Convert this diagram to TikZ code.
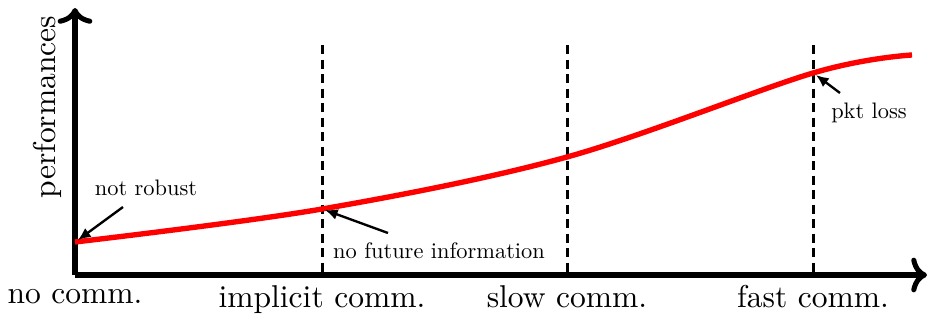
\documentclass[tikz,border=0pt]{standalone}
\usetikzlibrary{arrows.meta}
\begin{document}
\begin{tikzpicture}[x=0.317pt,y=-0.317pt,
  axisline/.style={line width=1.6pt,-{To[length=5pt,width=11pt]}},
  curveline/.style={red,line width=1.7pt},
  divider/.style={line width=0.95pt,dash pattern=on 2.9pt off 1.7pt},
  pointer/.style={line width=0.75pt,-{Latex[length=4pt,width=3.5pt]}},
  biglabel/.style={font=\normalsize,inner sep=0pt},
  smalllabel/.style={font=\normalsize,inner sep=0pt,scale=0.71,transform shape}]
\useasboundingbox (0,0) rectangle (929,320);
% axes
\coordinate (O) at (75,275);
\coordinate (ytop) at (75,8);
\coordinate (xend) at (927,275);
\draw[axisline] (O) -- (ytop);
\draw[axisline] (O) -- (xend);
% dividers
\coordinate (d1t) at (322,45); \coordinate (d1b) at (322,275);
\coordinate (d2t) at (567,45); \coordinate (d2b) at (567,275);
\coordinate (d3t) at (813,45); \coordinate (d3b) at (813,275);
\draw[divider] (d1t) -- (d1b);
\draw[divider] (d2t) -- (d2b);
\draw[divider] (d3t) -- (d3b);
% curve
\draw[curveline] plot[smooth,tension=0.55] coordinates {(75,242) (322,209) (567,157) (813,73) (912,55)};
% labels
\node[biglabel,anchor=north] (l0) at (75,289) {no comm.};
\node[biglabel,anchor=base] (l1) at (322,307) {implicit comm.};
\node[biglabel,anchor=base] (l2) at (567,307) {slow comm.};
\node[biglabel,anchor=base] (l3) at (813,307) {fast comm.};
\node[biglabel,rotate=90] (perf) at (47,107) {performances};
% annotations
\node[smalllabel] (nr) at (146,188) {not robust};
\node[smalllabel] (nf) at (439,251) {no future information};
\node[smalllabel] (pl) at (869,113) {pkt loss};
\coordinate (nrs) at (123,207);
\coordinate (nfs) at (388,233);
\coordinate (pls) at (840,93);
\draw[pointer] (nrs) -- (78,240);
\draw[pointer] (nfs) -- (325,210);
\draw[pointer] (pls) -- (816,75);
\end{tikzpicture}
\end{document}
